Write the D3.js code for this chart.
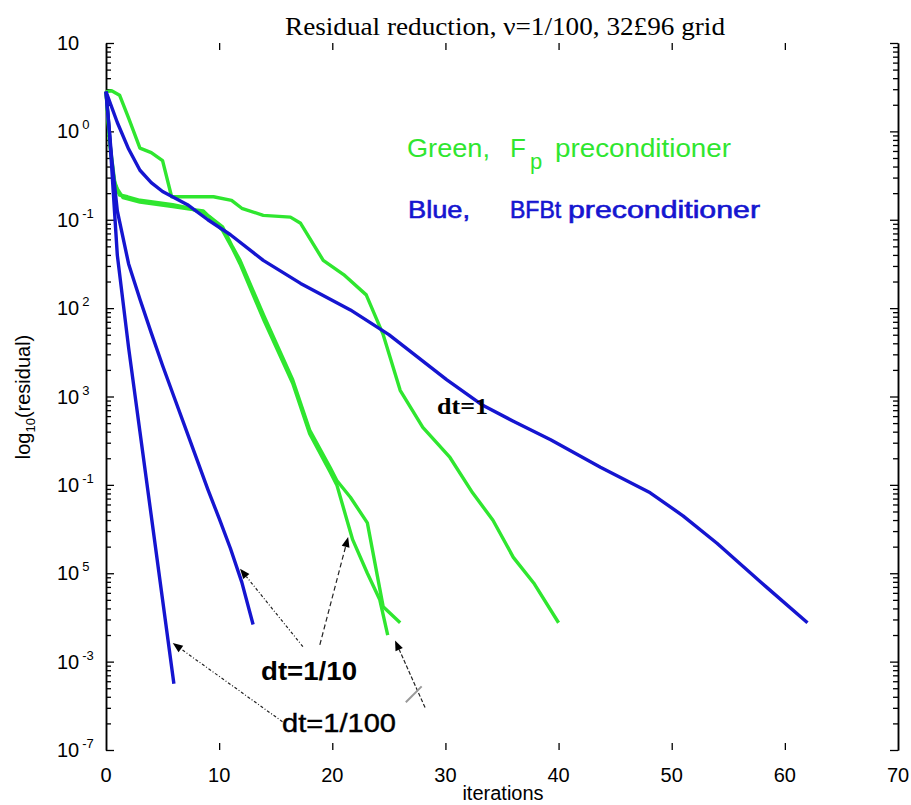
<!DOCTYPE html>
<html><head><meta charset="utf-8">
<script src="https://cdn.jsdelivr.net/npm/d3@7"></script>
<style>body{margin:0;background:#fff}svg{display:block}</style>
</head><body><svg id="c" width="911" height="805"></svg>
<script>
// ---- data (iterations, log10 residual) ----
const xTicks = [0,10,20,30,40,50,60,70];
const yTickExp = [1,0,-1,-2,-3,-4,-5,-6,-7];
const yTickSup = ["", "0", "-1", "2", "3", "-1", "5", "-3", "-7"];
const blueDt1 = [[0,0.45],[1,0.1],[2,-0.2],[3,-0.44],[4,-0.58],[5,-0.68],[7.2,-0.83],[9,-1.0],[11,-1.17],[13.9,-1.46],[17.2,-1.72],[21.6,-2.02],[25,-2.3],[30.1,-2.81],[33.3,-3.10],[36,-3.28],[39.3,-3.49],[43.7,-3.80],[48.1,-4.09],[51,-4.35],[54,-4.66],[58.4,-5.16],[62,-5.56]];
const blueDt10 = [[0,0.45],[0.5,-0.3],[1,-0.9],[2,-1.5],[3,-1.9],[4,-2.28],[5,-2.65],[6,-3.0],[7,-3.35],[8,-3.7],[9,-4.05],[10,-4.38],[11,-4.72],[12,-5.1],[13,-5.58]];
const blueDt100 = [[0,0.45],[0.3,0.0],[1,-1.4],[2,-2.45],[3,-3.4],[4,-4.35],[5,-5.3],[6,-6.25]];
const greenDt1 = [[0,0.45],[0.5,0.46],[1.2,0.41],[2,0.15],[3,-0.19],[4,-0.24],[5,-0.33],[5.8,-0.74],[9.5,-0.74],[11.1,-0.78],[12,-0.87],[13.9,-0.95],[16.3,-0.97],[17.2,-1.04],[19.2,-1.46],[21,-1.62],[23,-1.85],[24.5,-2.3],[26,-2.93],[28,-3.35],[30.4,-3.69],[32.4,-4.09],[34.2,-4.40],[36,-4.82],[37.8,-5.11],[40,-5.56]];
const greenDt10 = [[0,0.45],[0.4,-0.2],[0.8,-0.6],[1.2,-0.72],[1.9,-0.74],[3,-0.78],[5.9,-0.83],[7.4,-0.87],[8.6,-0.93],[9.2,-0.97],[10.3,-1.08],[11.2,-1.31],[11.85,-1.46],[14,-2.1],[16.5,-2.81],[18,-3.38],[19.8,-3.80],[20.4,-3.95],[21.6,-4.14],[23.1,-4.43],[23.6,-4.77],[24.5,-5.38],[26,-5.56]];
const greenDt100 = [[0,0.45],[0.3,-0.1],[0.7,-0.55],[1,-0.65],[1.5,-0.75],[3,-0.8],[5.9,-0.85],[7.4,-0.88],[8.6,-0.9],[9.4,-1.0],[10.3,-1.12],[11.2,-1.33],[11.85,-1.5],[14,-2.15],[16.5,-2.85],[18,-3.42],[19.8,-3.85],[20.4,-4.0],[21.3,-4.40],[21.8,-4.62],[23.1,-5.0],[24.2,-5.30],[24.9,-5.70]];
// annotation arrows: [fromX, fromLog, toX, toLog]
const arrowBlue10 = [17.4,-5.83, 11.85,-4.95];
const arrowGreen10 = [18.9,-5.81, 21.4,-4.59];
const arrowGreen100 = [28.2,-6.52, 25.55,-5.76];
const arrowBlue100 = [15.6,-6.68, 5.9,-5.79];
const greyMark = [26.5,-6.46, 27.9,-6.28];

const svg = d3.select("#c");
const x = d3.scaleLinear().domain([0,70]).range([106,898]);
const y = d3.scaleLog().domain([1e-7,10]).range([750,43]);
const Y = v => y(Math.pow(10,v));
const GREEN = "#2fe62f", BLUE = "#1515d0";

// axes
const minors = [];
for (let e=-7;e<1;e++) for (let k=2;k<10;k++) minors.push(k*Math.pow(10,e));
const majors = yTickExp.map(e=>Math.pow(10,e));
function vAxis(gen, tx, size, vals){
  svg.append("g").attr("transform",`translate(${tx},0)`)
    .call(gen(y).tickValues(vals).tickSize(size).tickSizeOuter(0).tickFormat(""))
    .call(g=>g.selectAll("line").attr("stroke","#000").attr("stroke-width",1.3))
    .call(g=>g.select(".domain").attr("stroke","#000").attr("stroke-width",1.5));
}
vAxis(d3.axisLeft, x(0), -8, majors);
vAxis(d3.axisLeft, x(0), -5, minors);
vAxis(d3.axisRight, x(70), -8, majors);
vAxis(d3.axisRight, x(70), -5, minors);
function hAxis(gen, ty, size){
  svg.append("g").attr("transform",`translate(0,${ty})`)
    .call(gen(x).tickValues(xTicks.slice(1,-1)).tickSize(size).tickFormat(""))
    .call(g=>g.select(".domain").remove())
    .call(g=>g.selectAll("line").attr("stroke","#000").attr("stroke-width",1.3));
}
hAxis(d3.axisBottom, 750, -7);
hAxis(d3.axisTop, 43, -7);

const font = "Liberation Sans, Arial, sans-serif";
svg.append("g").selectAll("text").data(xTicks).join("text")
  .attr("x",d=>x(d)).attr("y",782).attr("text-anchor","middle")
  .attr("font-family",font).attr("font-size",20).text(d=>d);
const yl = svg.append("g").selectAll("text").data(yTickExp).join("text")
  .attr("x",57).attr("y",d=>y(Math.pow(10,d))+7)
  .attr("font-family",font).attr("font-size",20);
yl.append("tspan").text("10");
yl.append("tspan").attr("dx",3).attr("dy",-9).attr("font-size",13).text((d,i)=>yTickSup[i]);

svg.append("text").attr("x",503).attr("y",800).attr("text-anchor","middle")
  .attr("font-family",font).attr("font-size",20).text("iterations");
const yt = svg.append("text").attr("transform","translate(30,397) rotate(-90)")
  .attr("text-anchor","middle").attr("font-family",font).attr("font-size",20);
yt.append("tspan").text("log");
yt.append("tspan").attr("font-size",13).attr("dy",5).text("10");
yt.append("tspan").attr("dy",-5).text("(residual)");

svg.append("text").attr("x",505).attr("y",35).attr("text-anchor","middle")
  .attr("font-family","Liberation Serif, Times New Roman, serif").attr("font-size",25)
  .attr("textLength",440).attr("lengthAdjust","spacingAndGlyphs")
  .text("Residual reduction, ν=1/100, 32£96 grid");

// curves
const line = d3.line().x(d=>x(d[0])).y(d=>Y(d[1]));
[[greenDt1,GREEN],[greenDt10,GREEN],[greenDt100,GREEN],[blueDt1,BLUE],[blueDt10,BLUE],[blueDt100,BLUE]]
  .forEach(([d,c])=>svg.append("path").datum(d).attr("d",line).attr("fill","none")
    .attr("stroke",c).attr("stroke-width",3.4).attr("stroke-linejoin","round"));

// legend text
function lt(tx,ty,fs,col,txt,len){
  const t=svg.append("text").attr("x",tx).attr("y",ty).attr("fill",col).attr("font-family",font)
    .attr("font-size",fs).text(txt);
  if(len) t.attr("textLength",len).attr("lengthAdjust","spacingAndGlyphs");
  return t;
}
lt(407,157,26,GREEN,"Green,",83);
lt(510,157,26,GREEN,"F");
lt(530,169,22,GREEN,"p");
lt(555,157,26,GREEN,"preconditioner",176);
lt(408,218,23,BLUE,"Blue,",62).attr("stroke",BLUE).attr("stroke-width",0.6);
lt(510,218,23,BLUE,"BFBt").attr("stroke",BLUE).attr("stroke-width",0.6);
lt(568,218,23,BLUE,"preconditioner",192).attr("stroke",BLUE).attr("stroke-width",0.6);

// annotations
svg.append("text").attr("x",437).attr("y",414).attr("font-family","Liberation Serif, serif")
  .attr("font-weight","bold").attr("font-size",24).attr("textLength",51)
  .attr("lengthAdjust","spacingAndGlyphs").text("dt=1");
svg.append("text").attr("x",261).attr("y",680).attr("font-family",font)
  .attr("font-weight","bold").attr("font-size",25).attr("textLength",96)
  .attr("lengthAdjust","spacingAndGlyphs").text("dt=1/10");
svg.append("text").attr("x",282).attr("y",732).attr("font-family",font)
  .attr("font-size",26).attr("textLength",114).attr("lengthAdjust","spacingAndGlyphs")
  .attr("stroke","#000").attr("stroke-width",0.4).text("dt=1/100");

function arrow(a, dash){
  const x1=x(a[0]), y1=Y(a[1]), x2=x(a[2]), y2=Y(a[3]);
  const ang=Math.atan2(y2-y1,x2-x1), L=10, W=4;
  const bx=x2-L*Math.cos(ang), by=y2-L*Math.sin(ang);
  svg.append("line").attr("x1",x1).attr("y1",y1).attr("x2",bx).attr("y2",by)
    .attr("stroke","#222").attr("stroke-width",1.2).attr("stroke-dasharray",dash);
  svg.append("path").attr("d",`M${x2},${y2}L${bx+W*Math.sin(ang)},${by-W*Math.cos(ang)}L${bx-W*Math.sin(ang)},${by+W*Math.cos(ang)}Z`)
    .attr("fill","#000");
}
arrow(arrowBlue10,"3,2,1,2");
arrow(arrowGreen10,"5,3");
arrow(arrowGreen100,"4,2");
arrow(arrowBlue100,"3,2,1,2");
svg.append("line").attr("x1",x(greyMark[0])).attr("y1",Y(greyMark[1]))
  .attr("x2",x(greyMark[2])).attr("y2",Y(greyMark[3]))
  .attr("stroke","#999").attr("stroke-width",2);
</script></body></html>
